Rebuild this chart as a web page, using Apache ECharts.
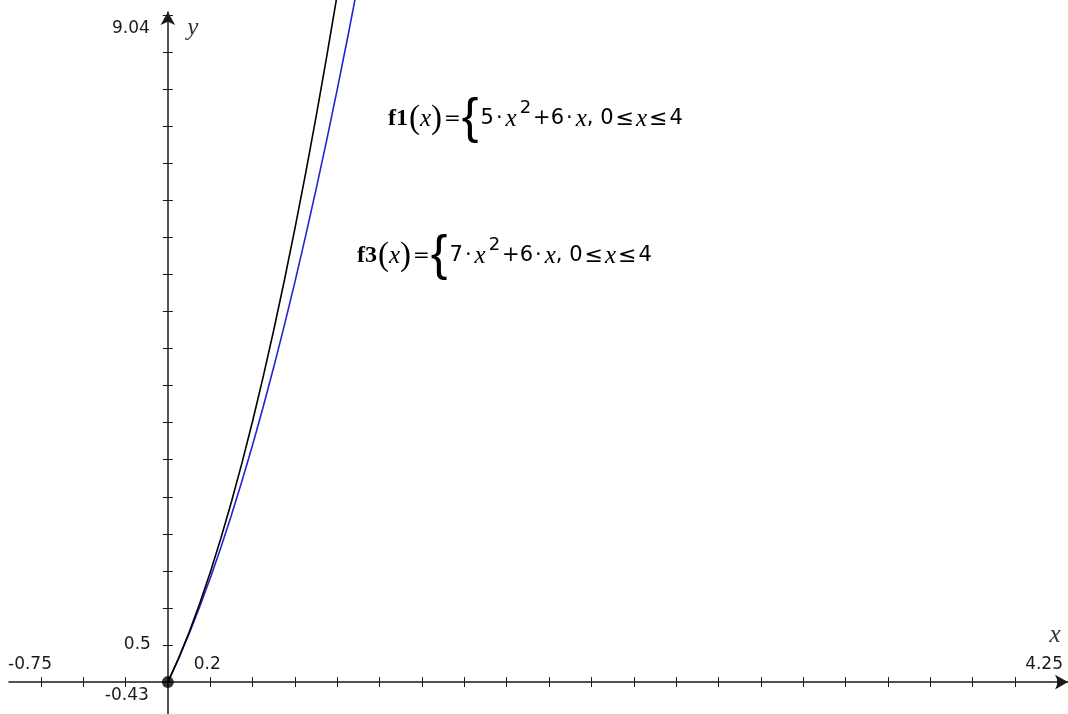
<!DOCTYPE html>
<html>
<head>
<meta charset="utf-8">
<title>f1 and f3</title>
<script src="https://cdn.jsdelivr.net/npm/echarts@6/dist/echarts.min.js"></script>
<style>
  html, body { margin: 0; padding: 0; background: #ffffff; }
  #chart { width: 1068px; height: 714px; }
</style>
</head>
<body>
<div id="chart"></div>
<script>
// Graph window (x and y extents) and tick scales
const xWindow = [-0.75, 4.25];
const yWindow = [-0.43, 9.04];
const xScale = 0.2;
const yScale = 0.5;

// Tick positions along each axis
const xTickValues = [-0.6, -0.4, -0.2, 0.2, 0.4, 0.6, 0.8, 1.0, 1.2, 1.4, 1.6, 1.8, 2.0,
  2.2, 2.4, 2.6, 2.8, 3.0, 3.2, 3.4, 3.6, 3.8, 4.0, 4.2];
const yTickValues = [0.5, 1.0, 1.5, 2.0, 2.5, 3.0, 3.5, 4.0, 4.5, 5.0, 5.5, 6.0, 6.5, 7.0,
  7.5, 8.0, 8.5, 9.0];

// f1(x) = 5x^2 + 6x, sampled points
const f1X = [0, 0.05, 0.1, 0.15, 0.2, 0.25, 0.3, 0.35, 0.4, 0.45, 0.5, 0.55, 0.6, 0.65, 0.7, 0.75, 0.8, 0.85, 0.9, 0.95];
const f1Y = [0, 0.3125, 0.65, 1.0125, 1.4, 1.8125, 2.25, 2.7125, 3.2, 3.7125, 4.25, 4.8125, 5.4, 6.0125, 6.65, 7.3125, 8.0, 8.7125, 9.45, 10.2125];

// f3(x) = 7x^2 + 6x, sampled points
const f3X = [0, 0.05, 0.1, 0.15, 0.2, 0.25, 0.3, 0.35, 0.4, 0.45, 0.5, 0.55, 0.6, 0.65, 0.7, 0.75, 0.8, 0.85];
const f3Y = [0, 0.3175, 0.67, 1.0575, 1.48, 1.9375, 2.43, 2.9575, 3.52, 4.1175, 4.75, 5.4175, 6.12, 6.8575, 7.63, 8.4375, 9.28, 10.1575];

// Origin marker
const originPoint = [[0, 0]];

const BLUE = '#2323d2';
const AXIS = '#1a1a1a';
const numFont = 'DejaVu Sans';
const serif = 'Liberation Serif';

const zip = (xs, ys) => xs.map((x, i) => [x, ys[i]]);

const tickStyle = { color: AXIS, width: 1 };
const hidden = { show: false };

const chart = echarts.init(document.getElementById('chart'), null, { renderer: 'canvas' });

chart.setOption({
  animation: false,
  backgroundColor: '#ffffff',
  grid: { left: 9, right: -1, top: 12, height: 706, containLabel: false },
  // Each axis is paired with a twin on the opposite side so ticks cross the axis line
  xAxis: [
    {
      type: 'value', position: 'bottom', min: xWindow[0], max: xWindow[1],
      axisLine: { onZero: true, symbol: ['none', 'arrow'], symbolSize: [11, 13],
        lineStyle: { color: AXIS, width: 1.5 } },
      axisTick: { show: true, customValues: xTickValues, length: 5, inside: false, lineStyle: tickStyle },
      axisLabel: hidden, splitLine: hidden
    },
    {
      type: 'value', position: 'top', min: xWindow[0], max: xWindow[1],
      axisLine: { show: false, onZero: true, onZeroAxisIndex: 0 },
      axisTick: { show: true, customValues: xTickValues, length: 5, inside: false, lineStyle: tickStyle },
      axisLabel: hidden, splitLine: hidden
    }
  ],
  yAxis: [
    {
      type: 'value', position: 'left', min: yWindow[0], max: yWindow[1],
      axisLine: { onZero: true, symbol: ['none', 'arrow'], symbolSize: [11, 13],
        lineStyle: { color: AXIS, width: 1.5 } },
      axisTick: { show: true, customValues: yTickValues, length: 5, inside: false, lineStyle: tickStyle },
      axisLabel: hidden, splitLine: hidden
    },
    {
      type: 'value', position: 'right', min: yWindow[0], max: yWindow[1],
      axisLine: { show: false, onZero: true, onZeroAxisIndex: 0 },
      axisTick: { show: true, customValues: yTickValues, length: 5, inside: false, lineStyle: tickStyle },
      axisLabel: hidden, splitLine: hidden
    }
  ],
  series: [
    {
      name: 'f1', type: 'line', xAxisIndex: 0, yAxisIndex: 0,
      data: zip(f1X, f1Y), showSymbol: false, symbol: 'none', clip: false,
      lineStyle: { color: BLUE, width: 1.6 }, z: 3
    },
    {
      name: 'f3', type: 'line', xAxisIndex: 0, yAxisIndex: 0,
      data: zip(f3X, f3Y), showSymbol: false, symbol: 'none', clip: false,
      lineStyle: { color: '#000000', width: 1.6 }, z: 4
    },
    {
      name: 'origin', type: 'scatter', xAxisIndex: 0, yAxisIndex: 0,
      data: originPoint, symbolSize: 12, itemStyle: { color: '#000000' }, z: 5
    }
  ]
});

// Window labels, axis names and function definitions placed relative to the axes
const px = (x, y) => chart.convertToPixel({ gridIndex: 0 }, [x, y]);
const fmt = v => String(v);

const numStyle = (txt, x, y, align, vAlign) => ({
  type: 'text', x: x, y: y, silent: true,
  style: { text: txt, fill: '#1a1a1a', font: '17px "' + numFont + '"', align: align, verticalAlign: vAlign }
});

const pXmin = px(xWindow[0], 0);
const pXmax = px(xWindow[1], 0);
const pXs = px(xScale, 0);
const pYs = px(0, yScale);
const pYmin = px(0, yWindow[0]);
const pYmax = px(0, yWindow[1]);

const fnRich = color => ({
  fn: { fontFamily: serif, fontWeight: 'bold', fontSize: 24, color: color, padding: [0, 1, 0, 0] },
  par: { fontFamily: serif, fontSize: 33, color: color },
  it: { fontFamily: serif, fontStyle: 'italic', fontSize: 25, color: color },
  eq: { fontFamily: numFont, fontSize: 20, color: color, padding: [0, 1, 0, 2] },
  br: { fontFamily: 'Liberation Sans', fontSize: 50, color: color, padding: [0, 2, 0, 0] },
  n: { fontFamily: numFont, fontSize: 21, color: color },
  dot: { fontFamily: numFont, fontSize: 21, color: color, padding: [0, 3, 0, 2] },
  le: { fontFamily: numFont, fontSize: 22, color: color, padding: [0, 2, 0, 2] },
  sup: { fontFamily: numFont, fontSize: 18, color: color, verticalAlign: 'top', padding: [5, 2, 0, 3] }
});

const fnText = (name, a) =>
  '{fn|' + name + '}{par|(}{it|x}{par|)}{eq|=}{br|{}{n|' + a + '}{dot|·}{it|x}{sup|2}{n|+6}{dot|·}{it|x}{n|, 0}{le|≤}{it|x}{le|≤}{n|4}';

chart.setOption({
  graphic: [
    numStyle(fmt(xWindow[0]), pXmin[0] - 1, pXmin[1] - 9, 'left', 'bottom'),
    numStyle(fmt(xWindow[1]), pXmax[0] - 5, pXmax[1] - 9, 'right', 'bottom'),
    numStyle(fmt(xScale), pXs[0] - 3, pXs[1] - 9, 'center', 'bottom'),
    numStyle(fmt(yScale), pYs[0] - 17, pYs[1], 'right', 'middle'),
    numStyle(fmt(yWindow[0]), pYmin[0] - 19, pYmin[1] - 18, 'right', 'middle'),
    numStyle(fmt(yWindow[1]), pYmax[0] - 18, pYmax[1] + 17, 'right', 'middle'),
    {
      type: 'text', x: pXmax[0] - 13, y: pXmax[1] - 47, silent: true,
      style: { text: 'x', fill: '#333333', font: 'italic 25px "' + serif + '"', align: 'center', verticalAlign: 'middle' }
    },
    {
      type: 'text', x: pYmax[0] + 25, y: pYmax[1] + 16, silent: true,
      style: { text: 'y', fill: '#333333', font: 'italic 25px "' + serif + '"', align: 'center', verticalAlign: 'middle' }
    },
    {
      type: 'text', x: 388, y: 119, silent: true,
      style: { text: fnText('f1', 5), rich: fnRich(BLUE), align: 'left', verticalAlign: 'middle' }
    },
    {
      type: 'text', x: 357, y: 256, silent: true,
      style: { text: fnText('f3', 7), rich: fnRich('#111111'), align: 'left', verticalAlign: 'middle' }
    }
  ]
});
</script>
</body>
</html>
